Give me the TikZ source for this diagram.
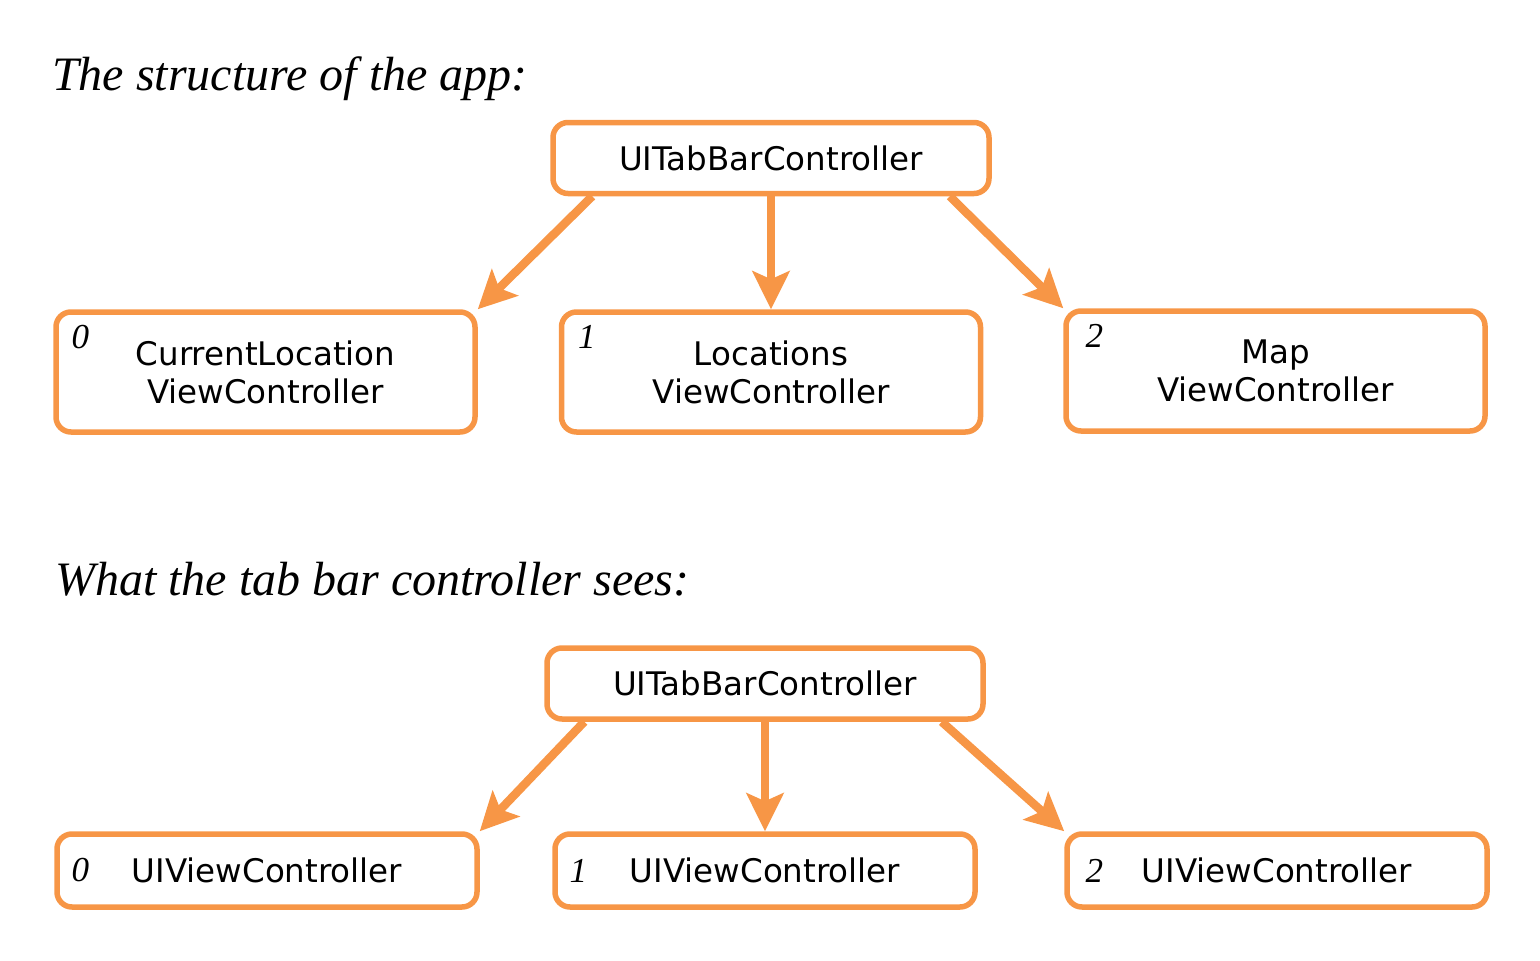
\documentclass[tikz,border=0pt]{standalone}
\usepackage{fontspec}
\newfontfamily\boxfont{DejaVu Sans}
\newfontfamily\titlefont{Liberation Serif}
\usetikzlibrary{arrows.meta,calc}
\definecolor{orng}{RGB}{247,150,70}
\begin{document}
\begin{tikzpicture}[x=1pt,y=-1pt,
  box/.style={draw=orng, line width=5.5pt, rounded corners=15pt, inner sep=0pt,
    font=\boxfont\fontsize{32.5}{38}\selectfont, align=center, text=black},
  rootbox/.style={box, minimum width=436pt, minimum height=71pt},
  tallbox/.style={box, minimum width=419pt, minimum height=120pt},
  flatbox/.style={box, minimum width=420pt, minimum height=73pt},
  conn/.style={draw=orng, line width=8.5pt, -{Stealth[length=38pt,width=37pt,inset=8pt]}},
  idx/.style={font=\titlefont\itshape\fontsize{35}{35}\selectfont, inner sep=0pt},
  title/.style={font=\titlefont\itshape\fontsize{48}{48}\selectfont, anchor=base west, inner sep=0pt}]
\useasboundingbox (0,0) rectangle (1540,961);

\node[title] (t1) at (52,90) {The structure of the app:};
\node[title] (t2) at (55,595) {What the tab bar controller sees:};

% top diagram
\node[rootbox] (r1) at (771,158) {UITabBarController};
\node[tallbox] (c0) at (265.5,372) {CurrentLocation\\ViewController};
\node[tallbox] (c1) at (771,372) {Locations\\ViewController};
\node[tallbox] (c2) at (1275.5,371) {Map\\ViewController};
\node[idx] (n0) at ([xshift=27pt,yshift=-28pt]c0.north west) {0};
\node[idx] (n1) at ([xshift=28pt,yshift=-28pt]c1.north west) {1};
\node[idx] (n2) at ([xshift=31pt,yshift=-28pt]c2.north west) {2};

\draw[conn] ([xshift=42pt]r1.south west) -- (c0.north east);
\draw[conn] (r1.south) -- (c1.north);
\draw[conn] ([xshift=-42pt]r1.south east) -- (c2.north west);

% bottom diagram
\node[rootbox] (r2) at (765,683.5) {UITabBarController};
\node[flatbox] (d0) at (267,870.5) {UIViewController};
\node[flatbox] (d1) at (765,870.5) {UIViewController};
\node[flatbox] (d2) at (1277,870.5) {UIViewController};
\node[idx] (m0) at ([xshift=26pt]d0.west) {0};
\node[idx] (m1) at ([xshift=26pt]d1.west) {1};
\node[idx] (m2) at ([xshift=30pt]d2.west) {2};

\draw[conn] ([xshift=40pt]r2.south west) -- (d0.north east);
\draw[conn] (r2.south) -- (d1.north);
\draw[conn] ([xshift=-44pt]r2.south east) -- (d2.north west);
\end{tikzpicture}
\end{document}
